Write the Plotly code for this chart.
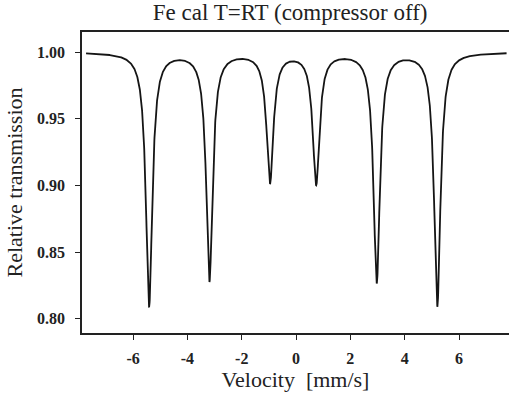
import numpy as np
import plotly.graph_objects as go

# Sextet line parameters
line_positions = [-5.41, -3.19, -0.96, 0.74, 2.97, 5.20]      # mm/s
line_min_transmission = [0.810, 0.829, 0.903, 0.902, 0.828, 0.810]
line_hwhm = [0.14, 0.14, 0.15, 0.15, 0.14, 0.14]             # mm/s
velocity_limits = [-7.73, 7.75]

x_ticks = [-6, -4, -2, 0, 2, 4, 6]
y_ticks = [0.80, 0.85, 0.90, 0.95, 1.00]
y_tick_labels = ["0.80", "0.85", "0.90", "0.95", "1.00"]

v = np.linspace(velocity_limits[0], velocity_limits[1], 3000)
t = np.ones_like(v)
for p, m, g in zip(line_positions, line_min_transmission, line_hwhm):
    t -= (1 - m) * g**2 / ((v - p) ** 2 + g**2)

fig = go.Figure()
fig.add_trace(go.Scatter(x=v, y=t, mode="lines",
                         line=dict(color="#151515", width=1.8),
                         showlegend=False, hoverinfo="skip"))

serif = "Liberation Serif, Times New Roman, serif"
fig.update_layout(
    width=509, height=396,
    margin=dict(l=82, r=0, t=32, b=63),
    paper_bgcolor="white", plot_bgcolor="white",
    font=dict(family=serif, color="#222"),
    title=dict(text="Fe cal T=RT (compressor off)", x=0.57, xanchor="center",
               y=0.969, yanchor="middle", font=dict(size=23, family=serif, color="#222")),
    xaxis=dict(range=[-7.88, 7.84], tickvals=x_ticks, ticktext=[str(k) for k in x_ticks],
               showline=True, linecolor="#222", linewidth=1.5, mirror=True,
               ticks="outside", ticklen=5, tickcolor="#222", tickwidth=1.2,
               showgrid=False, zeroline=False,
               tickfont=dict(size=16, family=serif, color="#222", weight="bold"),
               ticklabelstandoff=5,
               title=dict(text="Velocity\u00a0 [mm/s]", font=dict(size=22, family=serif, color="#222"),
                          standoff=4)),
    yaxis=dict(range=[0.7893, 1.0151], tickvals=y_ticks, ticktext=y_tick_labels,
               showline=True, linecolor="#222", linewidth=1.5, mirror=False,
               ticks="outside", ticklen=5, tickcolor="#222", tickwidth=1.2,
               showgrid=False, zeroline=False,
               tickfont=dict(size=16, family=serif, color="#222", weight="bold"),
               ticklabelstandoff=7,
               title=dict(text="Relative transmission", font=dict(size=22, family=serif, color="#222"),
                          standoff=8)),
)

fig.write_html("out.html")
